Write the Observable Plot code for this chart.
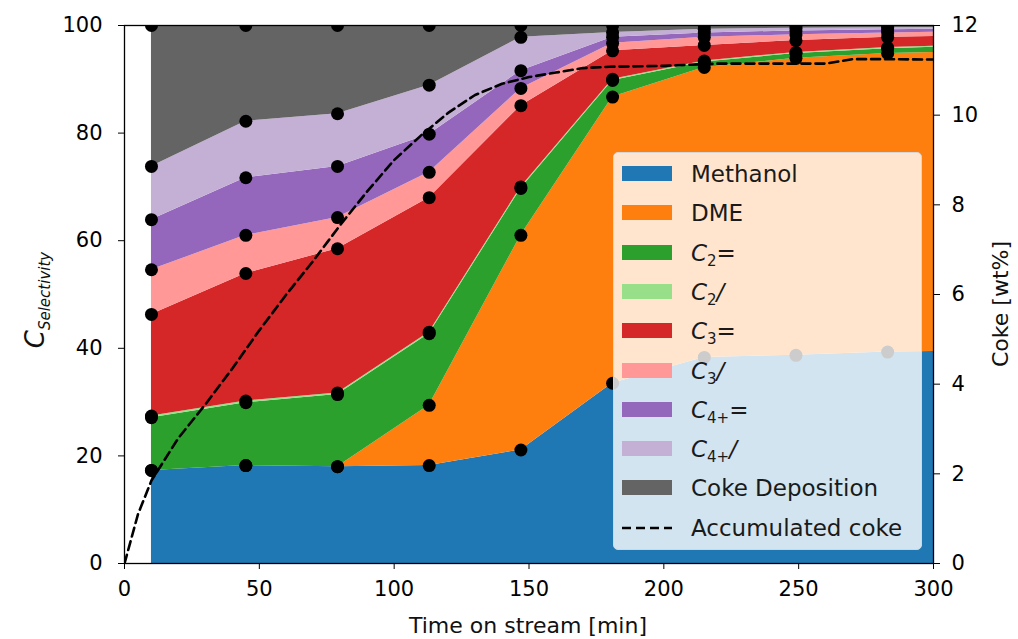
<!DOCTYPE html>
<html>
<head>
<meta charset="utf-8">
<script src="https://cdn.jsdelivr.net/npm/d3@7"></script>
<script src="https://cdn.jsdelivr.net/npm/@observablehq/plot@0.6"></script>
<style>
  html, body { margin: 0; padding: 0; background: #fff; }
  #wrap { position: relative; width: 1018px; height: 639px; font-family: "DejaVu Sans", sans-serif; }
  #legend { position: absolute; left: 613px; top: 152px; width: 309px; height: 398px;
    background: rgba(255,255,255,0.8); border: 1px solid #d6d6d6; border-radius: 5px; box-sizing: border-box; }
  .sw { position: absolute; left: 8px; width: 50px; height: 15px; }
  .lab { position: absolute; left: 77px; font-size: 23px; color: #1a1a1a; white-space: nowrap; line-height: 30px; }
  .lab i { font-style: italic; }
  .lab sub { font-size: 15px; vertical-align: -5px; font-style: normal; }
</style>
</head>
<body>
<div id="wrap"></div>
<script>
// ---- data ----
const times = [10, 45, 79, 113, 147, 181, 215, 249, 283, 317];
const seriesNames = ["Methanol", "DME", "C2=", "C2/", "C3=", "C3/", "C4+=", "C4+/", "Coke Deposition"];
const methanol = [17.3, 18.2, 18.0, 18.2, 21.1, 33.5, 38.3, 38.7, 39.3, 39.5];
const dme      = [0, 0, 0, 11.2, 39.9, 53.2, 53.9, 55.2, 55.5, 55.7];
const c2ene    = [9.8, 11.7, 13.4, 13.3, 8.7, 3.1, 1.0, 0.9, 0.9, 1.0];
const c2ane    = [0.3, 0.3, 0.3, 0.3, 0.3, 0.2, 0.2, 0.2, 0.2, 0.2];
const c3ene    = [18.9, 23.7, 26.8, 25.0, 15.1, 5.3, 2.9, 2.2, 1.9, 1.7];
const c3ane    = [8.3, 7.1, 5.8, 4.7, 3.2, 1.4, 1.5, 1.1, 0.8, 0.8];
const c4ene    = [9.3, 10.7, 9.5, 7.1, 3.3, 1.1, 0.8, 0.7, 0.6, 0.5];
const c4ane    = [9.9, 10.5, 9.8, 9.1, 6.2, 0.9, 0.7, 0.5, 0.4, 0.3];
const cokeDep  = [26.2, 17.8, 16.4, 11.1, 2.2, 1.3, 0.7, 0.5, 0.4, 0.3];
const cokeTime = [0, 5, 10, 20, 30, 40, 50, 60, 70, 80, 90, 100, 110, 120, 130, 140, 150, 160, 170, 180, 200, 220, 240, 260, 270, 280, 300];
const cokeWt   = [0, 1.1, 1.85, 2.8, 3.55, 4.35, 5.2, 6.0, 6.75, 7.55, 8.3, 9.0, 9.55, 10.05, 10.45, 10.7, 10.85, 10.95, 11.05, 11.08, 11.1, 11.15, 11.15, 11.15, 11.25, 11.25, 11.24];
const xTicks = [0, 50, 100, 150, 200, 250, 300];
const yTicks = [0, 20, 40, 60, 80, 100];
const cokeTicks = [0, 2, 4, 6, 8, 10, 12];
const colors = ["#1f77b4", "#ff7f0e", "#2ca02c", "#98df8a", "#d62728", "#ff9896", "#9467bd", "#c5b0d5", "#646464"];

const seriesValues = [methanol, dme, c2ene, c2ane, c3ene, c3ane, c4ene, c4ane, cokeDep];
const long = [];
times.forEach((t, i) => {
  seriesNames.forEach((s, k) => long.push({t, s, v: seriesValues[k][i]}));
});
const coke = cokeTime.map((t, i) => ({t, w: cokeWt[i]}));
const cokeMax = 12, yMax = 100;

const font = "DejaVu Sans, sans-serif";
const plot = Plot.plot({
  width: 1018, height: 639,
  marginLeft: 124, marginRight: 85, marginTop: 25, marginBottom: 76,
  style: {fontSize: "21px", fontFamily: font, color: "black", background: "white"},
  x: {domain: [0, 300]},
  y: {domain: [0, yMax]},
  color: {domain: seriesNames, range: colors},
  marks: [
    Plot.areaY(long, {x: "t", y: "v", z: "s", fill: "s", clip: true}),
    Plot.line(coke, {x: "t", y: d => d.w * yMax / cokeMax, stroke: "black", strokeWidth: 2.6, strokeDasharray: "9,5", clip: true}),
    Plot.dot(long, Plot.stackY2({x: "t", y: "v", z: "s", r: 6.5, fill: "black", clip: true})),
    Plot.frame({stroke: "black", strokeWidth: 1.3}),
    Plot.axisX({ticks: xTicks, tickSize: 6, tickPadding: 12, label: null, fontSize: 21}),
    Plot.axisY({anchor: "left", ticks: yTicks, tickSize: 6, tickPadding: 16, label: null, fontSize: 21}),
    Plot.axisY({anchor: "right", ticks: cokeTicks.map(v => v * yMax / cokeMax), tickFormat: d => String(Math.round(d * cokeMax / yMax)), tickSize: 6, tickPadding: 12, label: null, fontSize: 21})
  ]
});
const wrap = document.getElementById("wrap");
wrap.appendChild(plot);

// axis labels
const svg = d3.select(plot);
svg.append("text").attr("x", 528).attr("y", 633).attr("text-anchor", "middle")
  .attr("font-size", 22).attr("font-family", font).attr("fill", "#111").text("Time on stream [min]");
const yl = svg.append("text").attr("transform", "translate(44,300) rotate(-90)").attr("text-anchor", "middle")
  .attr("font-family", font).attr("fill", "#111");
yl.append("tspan").attr("font-size", 26).attr("font-style", "italic").text("C");
yl.append("tspan").attr("font-size", 15).attr("font-style", "italic").attr("dy", 6).text("Selectivity");
svg.append("text").attr("transform", "translate(1008,304) rotate(-90)").attr("text-anchor", "middle")
  .attr("font-size", 22).attr("font-family", font).attr("fill", "#111").text("Coke [wt%]");

// legend
const legendLabels = [
  "Methanol", "DME",
  "<i>C</i><sub>2</sub>=", "<i>C</i><sub>2</sub><i>/</i>",
  "<i>C</i><sub>3</sub>=", "<i>C</i><sub>3</sub><i>/</i>",
  "<i>C</i><sub>4+</sub>=", "<i>C</i><sub>4+</sub><i>/</i>",
  "Coke Deposition", "Accumulated coke"
];
const leg = document.createElement("div");
leg.id = "legend";
legendLabels.forEach((lab, i) => {
  const top = 6 + i * 39.3;
  const row = document.createElement("div");
  row.style.cssText = `position:absolute;left:0;top:${top}px;width:300px;height:30px;`;
  let sw;
  if (i < seriesNames.length) {
    sw = `<div class="sw" style="top:7px;background:${colors[i]}"></div>`;
  } else {
    sw = `<svg style="position:absolute;left:8px;top:7px" width="50" height="16"><line x1="0" x2="50" y1="8" y2="8" stroke="black" stroke-width="2.6" stroke-dasharray="9,5"/></svg>`;
  }
  row.innerHTML = sw + `<div class="lab">${lab}</div>`;
  leg.appendChild(row);
});
wrap.appendChild(leg);
</script>
</body>
</html>
